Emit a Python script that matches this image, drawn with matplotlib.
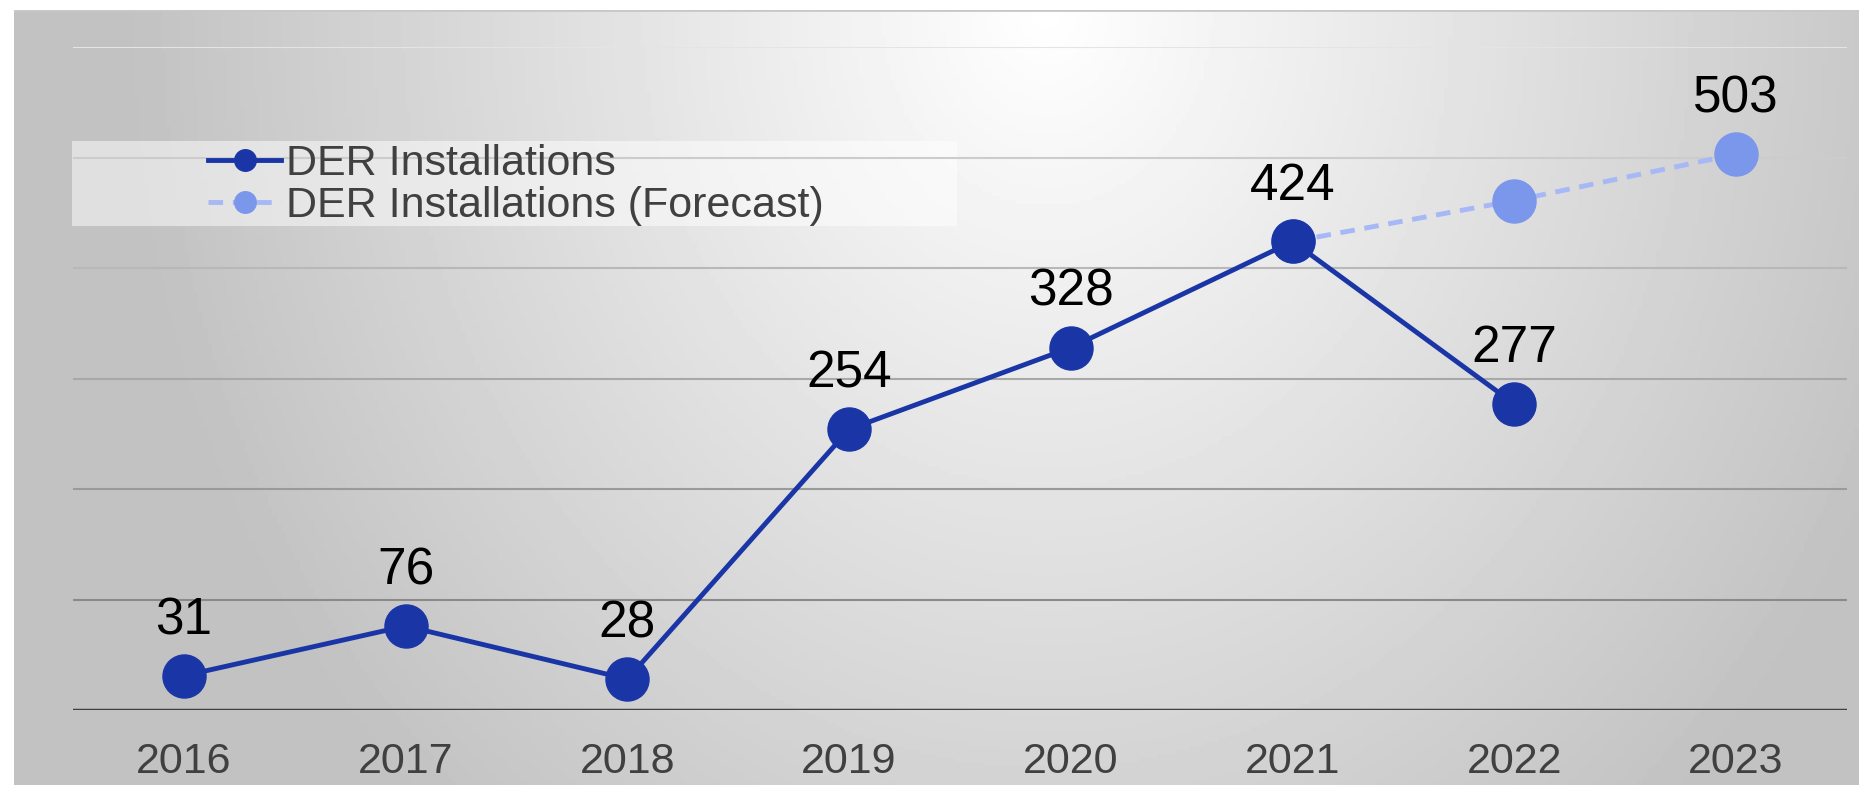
import numpy as np
import matplotlib
matplotlib.use("Agg")
import matplotlib.pyplot as plt
import matplotlib.patches as patches

plt.rcParams['font.family'] = ['Liberation Sans', 'DejaVu Sans']

years = ['2016', '2017', '2018', '2019', '2020', '2021', '2022', '2023']
actual = [31, 76, 28, 254, 328, 424, 277]
forecast_years = ['2021', '2022', '2023']
forecast = [424, 461, 503]

dark_blue = '#1a36a6'
light_line = '#a6b8f5'
light_marker = '#7b97eb'

fig = plt.figure(figsize=(18.59, 7.85), dpi=100)

# gradient panel behind the chart
W, H = 1859, 785
bg = fig.add_axes([14 / W, 0, 1 - 14 / W, 1 - 10 / H])
gx, gy = np.meshgrid(np.linspace(0, 1, 400), np.linspace(0, 1, 200))
d = np.sqrt(((gx - 0.56) / 0.5) ** 2 + (gy / 1.4) ** 2)
shade = 1 - 0.24 * np.clip(d, 0, 1)
bg.imshow(shade, cmap='gray', vmin=0, vmax=1, aspect='auto', extent=[0, 1, 1, 0])
bg.axhline(0, color='#c8c8c8', lw=2)
bg.set_xlim(0, 1)
bg.set_ylim(1, 0)
bg.axis('off')
# legend box
bg.add_patch(patches.Rectangle((72 / W, 1 - 226 / H), (957 - 72) / W, 85 / H,
                               transform=fig.transFigure, facecolor='white',
                               alpha=0.5, edgecolor='none'))

ax = fig.add_axes([73 / W, 1 - 710 / H, (1847 - 73) / W, (710 - 47) / H])
ax.patch.set_alpha(0)

x = np.arange(len(years))
xa = x[:len(actual)]
xf = [years.index(y) for y in forecast_years]

grid_cols = ['#8a8a8a', '#9a9a9a', '#a8a8a8', '#b8b8b8', '#cccccc', '#e4e4e4']
for v, c in zip(range(100, 700, 100), grid_cols):
    ax.axhline(v, color=c, lw=1.5, zorder=1)
ax.axhline(0, color='#404040', lw=2.5, zorder=2)

ax.plot(xf, forecast, color=light_line, lw=3.5, ls=(0, (3, 2)), marker='o',
        ms=31, mfc=light_marker, mec=light_marker, zorder=3,
        label='DER Installations (Forecast)')
ax.plot(xa, actual, color=dark_blue, lw=3.5, marker='o', ms=31,
        mfc=dark_blue, mec=dark_blue, zorder=4, label='DER Installations')

for xi, v in zip(xa, actual):
    ax.annotate(str(v), (xi, v), xytext=(0, 30), textcoords='offset points',
                ha='center', va='baseline', fontsize=37, color='black', zorder=5)
for xi, v in zip(xf, forecast):
    if years[xi] in years[:len(actual)]:
        continue
    ax.annotate(str(v), (xi, v), xytext=(0, 30), textcoords='offset points',
                ha='center', va='baseline', fontsize=37, color='black', zorder=5)

ax.set_xlim(-0.5, len(years) - 0.5)
ax.set_ylim(0, 600)
ax.set_xticks(x)
ax.set_xticklabels(years, fontsize=31, color='#404040')
ax.set_yticks([])
ax.tick_params(axis='x', length=0, pad=23)
for s in ax.spines.values():
    s.set_visible(False)

h, l = ax.get_legend_handles_labels()
leg = ax.legend(h[::-1], l[::-1], loc='upper left', bbox_to_anchor=(208 / W, 1 - 144 / H),
                bbox_transform=fig.transFigure, frameon=False, fontsize=31,
                handlelength=1.7, handletextpad=0.12, labelspacing=0.05,
                borderpad=0, borderaxespad=0, markerscale=0.5,
                labelcolor='#404040')

fig.savefig('out.png', dpi=100)
